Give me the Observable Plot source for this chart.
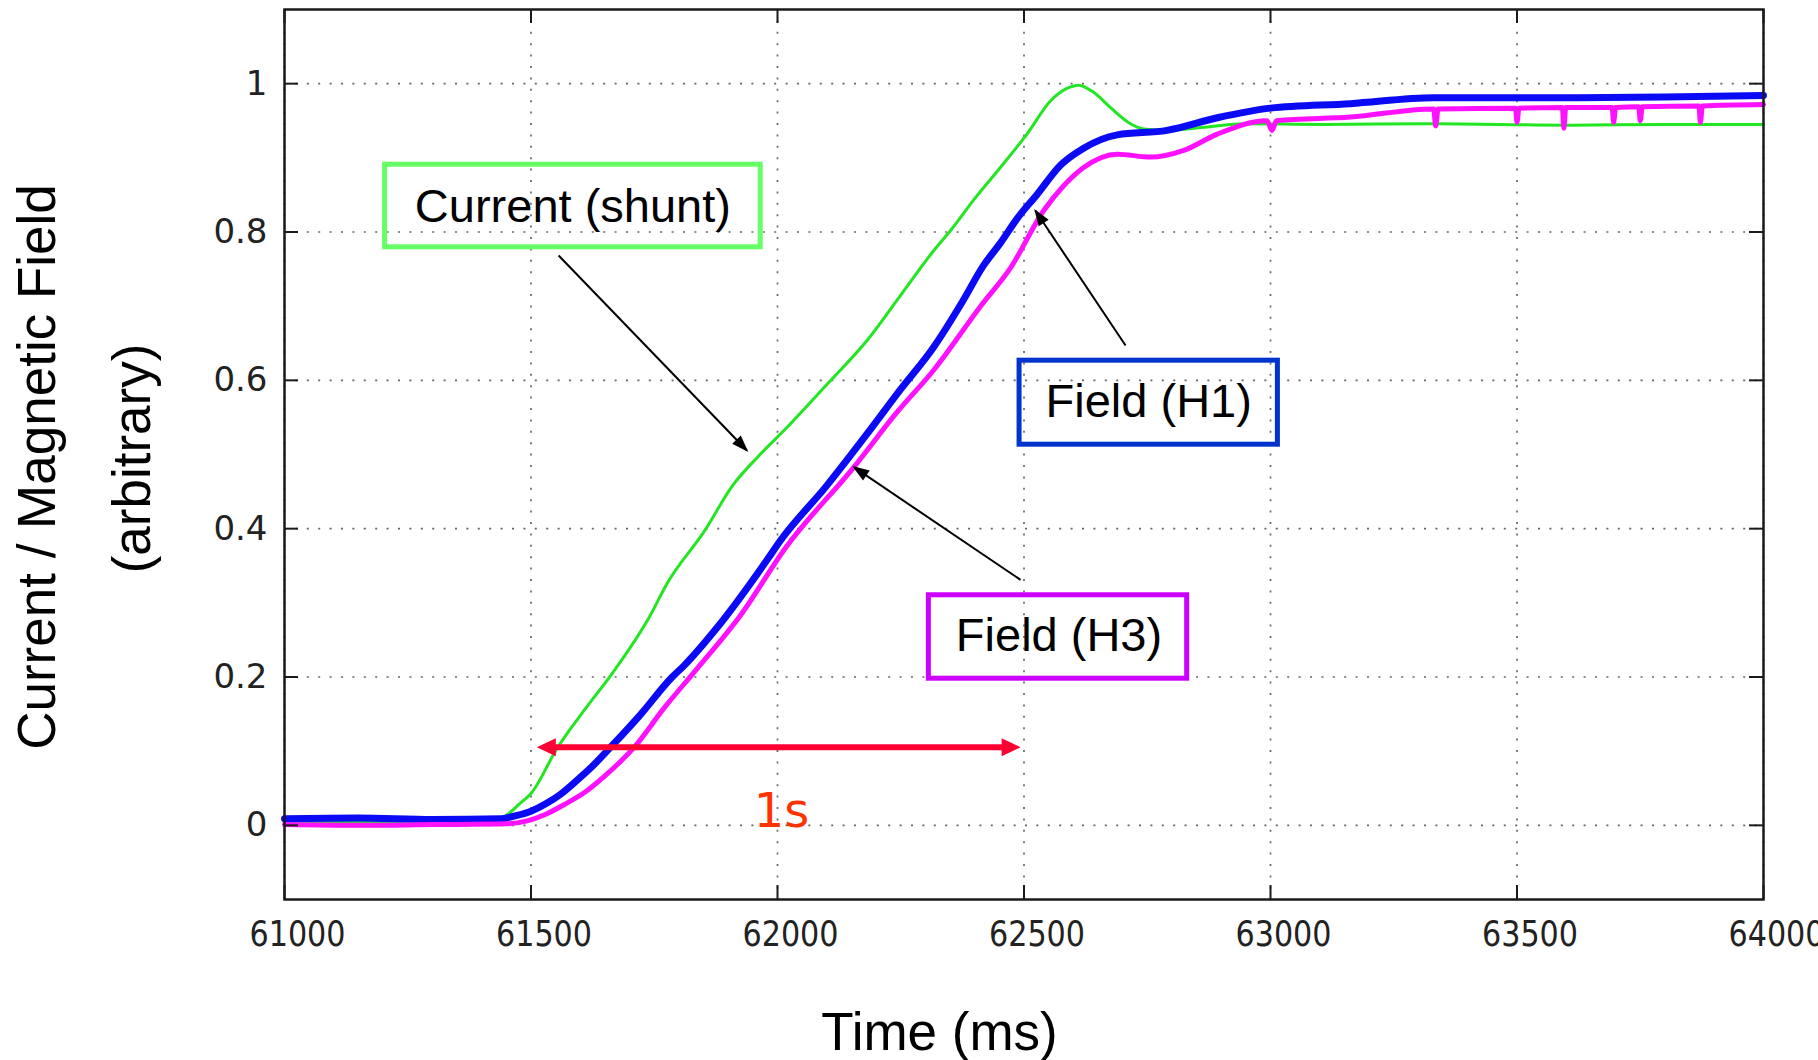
<!DOCTYPE html>
<html>
<head>
<meta charset="utf-8">
<script src="https://cdn.jsdelivr.net/npm/d3@7"></script>
<script src="https://cdn.jsdelivr.net/npm/@observablehq/plot@0.6"></script>
<style>
  html, body { margin: 0; padding: 0; background: #fff; }
  svg { display: block; }
</style>
</head>
<body>
<div id="chart"></div>
<script>
// ---------- data ----------
const xTicks = [61000, 61500, 62000, 62500, 63000, 63500, 64000];
const yTicks = [0, 0.2, 0.4, 0.6, 0.8, 1];
const xLabel = "Time (ms)";
const yLabel1 = "Current / Magnetic Field";
const yLabel2 = "(arbitrary)";

// [time ms, value]
const currentShunt = [
  [61000,0.005],[61250,0.005],[61425,0.006],[61453,0.015],[61475,0.028],[61500,0.043],
  [61554,0.105],[61610,0.157],[61666,0.206],[61741,0.282],[61776,0.326],[61851,0.396],
  [61911,0.460],[61959,0.496],[62020,0.537],[62101,0.595],[62182,0.654],[62250,0.715],
  [62317,0.775],[62351,0.802],[62400,0.845],[62452,0.887],[62506,0.932],[62554,0.977],
  [62585,0.993],[62611,0.998],[62640,0.989],[62675,0.968],[62716,0.946],[62743,0.939],
  [62790,0.937],[62860,0.941],[62950,0.946],[63100,0.945],[63330,0.946],[63600,0.944],
  [63800,0.945],[64000,0.945]
];
const fieldH1 = [
  [61000,0.009],[61150,0.010],[61300,0.008],[61440,0.009],[61470,0.013],[61500,0.019],
  [61530,0.029],[61560,0.042],[61592,0.060],[61625,0.080],[61661,0.105],[61723,0.150],
  [61785,0.199],[61810,0.215],[61878,0.267],[61979,0.358],[62006,0.384],[62100,0.458],
  [62182,0.528],[62250,0.588],[62317,0.645],[62375,0.706],[62418,0.755],[62452,0.785],
  [62486,0.818],[62527,0.851],[62574,0.890],[62621,0.913],[62689,0.931],[62790,0.937],
  [62892,0.954],[63000,0.967],[63162,0.973],[63331,0.981],[63600,0.981],[63800,0.982],
  [64000,0.984]
];
const fieldH3 = [
  [61000,0.001],[61150,0.000],[61300,0.001],[61450,0.002],[61492,0.006],[61530,0.015],
  [61570,0.029],[61610,0.045],[61647,0.065],[61709,0.105],[61771,0.159],[61834,0.209],
  [61927,0.285],[62015,0.373],[62155,0.483],[62240,0.555],[62317,0.614],[62412,0.700],
  [62473,0.752],[62540,0.829],[62580,0.862],[62621,0.887],[62689,0.905],[62757,0.901],
  [62824,0.910],[62892,0.932],[62993,0.950],[63003,0.937],[63012,0.950],[63162,0.955],
  [63331,0.966],[63335,0.943],[63340,0.966],[63497,0.967],[63500,0.948],[63504,0.967],
  [63592,0.968],[63595,0.940],[63599,0.968],[63693,0.968],[63696,0.948],[63700,0.968],
  [63747,0.969],[63750,0.950],[63754,0.969],[63869,0.970],[63872,0.948],[63876,0.970],
  [64000,0.972]
];

// annotation boxes in data coordinates
const boxCurrent = [{label: "Current (shunt)", x1: 61204, x2: 61966, y1: 0.7794, y2: 0.8907, tx: 61585, ty: 0.8141}];
const boxH1 = [{label: "Field (H1)", x1: 62491, x2: 63015, y1: 0.5132, y2: 0.6265, tx: 62753, ty: 0.5503}];
const boxH3 = [{label: "Field (H3)", x1: 62307, x2: 62831, y1: 0.1977, y2: 0.3102, tx: 62571, ty: 0.2348}];
// leader arrows: from label to curve
const leaderArrows = [
  {x1: 61556, y1: 0.7683, x2: 61938, y2: 0.5054},
  {x1: 62706, y1: 0.6469, x2: 62523, y2: 0.8289},
  {x1: 62493, y1: 0.3310, x2: 62155, y2: 0.4829}
];
const spanArrow = [{x1: 61526, x2: 62479, y: 0.1053}];
const spanLabel = [{text: "1s", x: 62008, y: -0.0025}];

// ---------- layout ----------
const W = 1818, H = 1060;
const mL = 284, mR = 55, mT = 9, mB = 161;
const innerW = W - mL - mR, innerH = H - mT - mB;
const tickLen = 14;
const sansFont = "'Liberation Sans', Arial, Helvetica, sans-serif";
const tickFont = "'DejaVu Sans', sans-serif";
const gridStyle = {stroke: "#666", strokeOpacity: 1, strokeWidth: 1.7, strokeDasharray: "2,9.4"};

const chart = Plot.plot({
  width: W, height: H,
  marginLeft: mL, marginRight: mR, marginTop: mT, marginBottom: mB,
  style: {background: "#fff", fontFamily: sansFont, color: "#000"},
  x: {domain: [61000, 64000]},
  y: {domain: [-0.1, 1.1]},
  marks: [
    Plot.gridX({ticks: xTicks, ...gridStyle}),
    Plot.gridY({ticks: yTicks, ...gridStyle}),
    Plot.line(currentShunt, {x: d => d[0], y: d => d[1], stroke: "#22e622", strokeWidth: 3, curve: "monotone-x"}),
    Plot.line(fieldH1, {x: d => d[0], y: d => d[1], stroke: "#0a0af5", strokeWidth: 7, curve: "monotone-x", strokeLinejoin: "round"}),
    Plot.line(fieldH3, {x: d => d[0], y: d => d[1], stroke: "#ff10ff", strokeWidth: 5, curve: "monotone-x", strokeLinejoin: "round"}),
    Plot.frame({stroke: "#1a1a1a", strokeWidth: 2.5}),
    // inward ticks on all four sides
    Plot.ruleX(xTicks, {x: d => d, insetTop: innerH - tickLen, stroke: "#1a1a1a", strokeWidth: 2}),
    Plot.ruleX(xTicks, {x: d => d, insetBottom: innerH - tickLen, stroke: "#1a1a1a", strokeWidth: 2}),
    Plot.ruleY(yTicks, {y: d => d, insetRight: innerW - tickLen, stroke: "#1a1a1a", strokeWidth: 2}),
    Plot.ruleY(yTicks, {y: d => d, insetLeft: innerW - tickLen, stroke: "#1a1a1a", strokeWidth: 2}),
    Plot.axisX({ticks: xTicks, anchor: "bottom", tickSize: 0, tickPadding: 21, dx: 13,
      tickFormat: d => String(d), fontSize: 36, fontFamily: tickFont, fill: "#222", label: null}),
    Plot.axisY({ticks: yTicks, anchor: "left", tickSize: 0, tickPadding: 17,
      tickFormat: d => String(d), fontSize: 34, fontFamily: tickFont, fill: "#222", label: null}),
    // annotation boxes
    Plot.rect(boxCurrent, {x1: "x1", x2: "x2", y1: "y1", y2: "y2", fill: "none", stroke: "#66ff66", strokeWidth: 5}),
    Plot.rect(boxH1, {x1: "x1", x2: "x2", y1: "y1", y2: "y2", fill: "none", stroke: "#0033cc", strokeWidth: 5}),
    Plot.rect(boxH3, {x1: "x1", x2: "x2", y1: "y1", y2: "y2", fill: "none", stroke: "#cc00ff", strokeWidth: 5}),
    Plot.text([...boxCurrent, ...boxH1, ...boxH3], {x: "tx", y: "ty", text: "label", lineAnchor: "bottom",
      fontSize: 47, fontFamily: sansFont, fill: "#000"}),
    Plot.link(leaderArrows, {x1: "x1", y1: "y1", x2: "x2", y2: "y2", stroke: "#000", strokeWidth: 2,
      ariaLabel: () => "leader-arrow"}),
    Plot.link(spanArrow, {x1: "x1", x2: "x2", y1: "y", y2: "y", stroke: "#ff0033", strokeWidth: 6,
      ariaLabel: () => "span-arrow"}),
    Plot.text(spanLabel, {x: "x", y: "y", text: "text", lineAnchor: "bottom", fontSize: 48,
      fontFamily: "'DejaVu Sans', Verdana, sans-serif", fill: "#ff3300"}),
    // axis titles
    Plot.text([xLabel], {text: d => d, frameAnchor: "bottom", textAnchor: "middle", dx: -84.5, dy: 150, lineAnchor: "bottom",
      fontSize: 53, fontFamily: sansFont, fill: "#000"}),
    Plot.text([yLabel1], {text: d => d, frameAnchor: "left", textAnchor: "middle", rotate: -90, dx: -230, dy: 12.5, lineAnchor: "bottom",
      fontSize: 53, fontFamily: sansFont, fill: "#000"}),
    Plot.text([yLabel2], {text: d => d, frameAnchor: "left", textAnchor: "middle", rotate: -90, dx: -135, dy: 4, lineAnchor: "bottom",
      fontSize: 53, fontFamily: sansFont, fill: "#000"})
  ]
});

// filled arrow heads as SVG markers
const svg = d3.select(chart);
const defs = svg.append("defs");
function addMarker(id, color, len, half, ext) {
  defs.append("marker")
    .attr("id", id)
    .attr("markerUnits", "userSpaceOnUse")
    .attr("viewBox", "-40 -20 60 40")
    .attr("markerWidth", 60).attr("markerHeight", 40)
    .attr("refX", 0).attr("refY", 0)
    .attr("orient", "auto-start-reverse")
    .style("overflow", "visible")
    .append("path")
    .attr("d", `M${ext},0L${ext - len},${-half}L${ext - len},${half}Z`)
    .attr("fill", color).attr("stroke", "none");
}
addMarker("head-black", "#000", 17, 6, 2);
addMarker("head-red", "#ff0033", 19, 9, 7);
svg.selectAll('[aria-label="leader-arrow"]').attr("marker-end", "url(#head-black)");
svg.selectAll('[aria-label="span-arrow"]').attr("marker-start", "url(#head-red)").attr("marker-end", "url(#head-red)");

// condensed look of the x tick labels
svg.selectAll('g[aria-label="x-axis tick label"] text').each(function () {
  const t = this.getAttribute("transform") || "";
  this.setAttribute("transform", t + " scale(0.84,1)");
});

document.getElementById("chart").appendChild(chart);
</script>
</body>
</html>
